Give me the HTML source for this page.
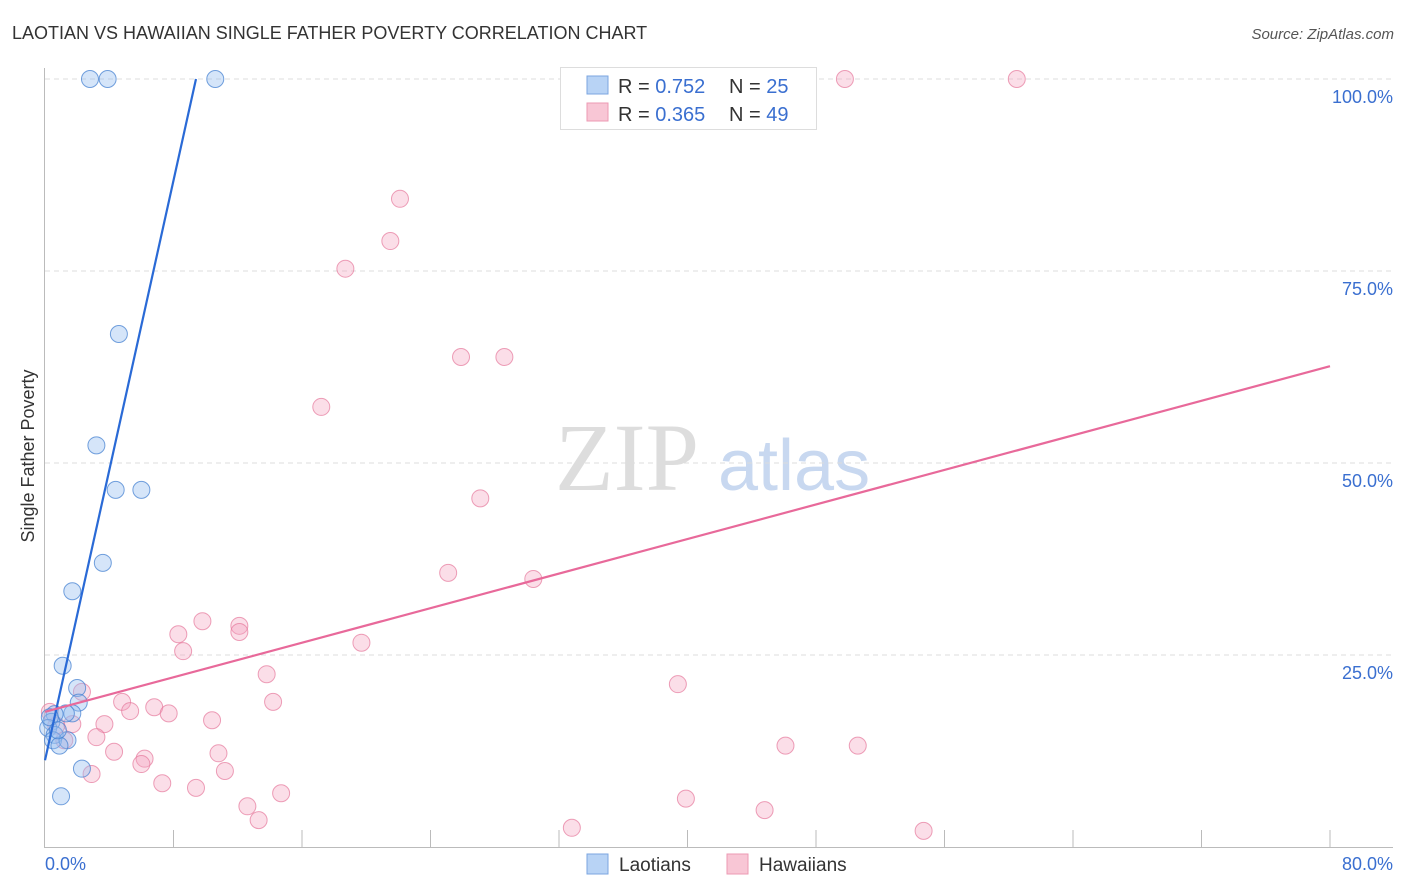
<!DOCTYPE html>
<html><head><meta charset="utf-8"><style>
body{margin:0;background:#fff;font-family:"Liberation Sans",sans-serif;}
svg{display:block}
</style></head><body>
<svg id="chart" width="1406" height="892">
<text x="12" y="39" font-size="18" fill="#333">LAOTIAN VS HAWAIIAN SINGLE FATHER POVERTY CORRELATION CHART</text>
<text x="1394" y="39" font-size="15" fill="#555" font-style="italic" text-anchor="end">Source: ZipAtlas.com</text>
<text x="34" y="456" font-size="18" fill="#333" text-anchor="middle" transform="rotate(-90 34 456)">Single Father Poverty</text>
<text x="555" y="490" font-size="96" fill="#ddd" font-family="Liberation Serif,serif">ZIP</text>
<text x="718" y="490" font-size="72" fill="#c8d8f0">atlas</text>
<g id="grid"></g><g id="axes"></g><g id="pts"></g><g id="lines"></g>
<g>
<rect x="560.5" y="67.5" width="256" height="62" fill="#fff" stroke="#ddd"/>
<rect x="587" y="76" width="21" height="18" fill="#b8d3f5" stroke="#7ba6e0"/>
<rect x="587" y="103" width="21" height="18" fill="#f8c6d5" stroke="#ec9ab3"/>
<text x="618" y="93" font-size="20" fill="#333">R = <tspan fill="#3a6fd0">0.752</tspan></text>
<text x="729" y="93" font-size="20" fill="#333">N = <tspan fill="#3a6fd0">25</tspan></text>
<text x="618" y="121" font-size="20" fill="#333">R = <tspan fill="#3a6fd0">0.365</tspan></text>
<text x="729" y="121" font-size="20" fill="#333">N = <tspan fill="#3a6fd0">49</tspan></text>
</g>
<g>
<rect x="587" y="854" width="21" height="20" fill="#b8d3f5" stroke="#7ba6e0"/>
<text x="619" y="871" font-size="19" fill="#333">Laotians</text>
<rect x="727" y="854" width="21" height="20" fill="#f8c6d5" stroke="#ec9ab3"/>
<text x="759" y="871" font-size="19" fill="#333">Hawaiians</text>
</g>
</svg>
<script>
const yTicks=[25,50,75,100];
const xTickLabels=["0.0%","80.0%"];
const blueX=[2.8,3.9,10.6,4.6,3.2,4.4,6.0,3.6,1.7,1.1,2.0,2.1,1.7,1.3,0.6,0.4,0.2,0.6,0.5,1.4,0.9,2.3,1.0,0.3,0.8];
const blueY=[100,100,100,66.8,52.3,46.5,46.5,37.0,33.3,23.6,20.7,18.8,17.4,17.4,17.3,16.3,15.5,14.6,13.9,13.9,13.2,10.2,6.6,16.9,15.2];
const pinkX=[49.8,60.5,22.1,21.5,18.7,25.9,28.6,17.2,27.1,25.1,30.4,9.8,12.1,12.1,8.3,19.7,8.6,39.4,13.8,2.3,14.2,4.8,5.3,6.8,7.7,3.7,10.4,3.2,10.8,4.3,6.2,6.0,11.2,2.9,7.3,9.4,12.6,14.7,13.3,39.9,44.8,46.1,50.6,32.8,54.7,1.7,1.2,0.7,0.3];
const pinkY=[100,100,84.4,78.9,75.3,63.8,63.8,57.3,45.4,35.7,34.9,29.4,28.8,28.0,27.7,26.6,25.5,21.2,22.5,20.2,18.9,18.9,17.7,18.2,17.4,16.0,16.5,14.3,12.2,12.4,11.5,10.8,9.9,9.5,8.3,7.7,5.3,7.0,3.5,6.3,4.8,13.2,13.2,2.5,2.1,16.0,13.9,15.8,17.6];
const blueTrend=[[0,11.3],[9.4,100]];
const pinkTrend=[[0,17.6],[80,62.6]];
const NS="http://www.w3.org/2000/svg";
const X=v=>45+v*(1285/80), Y=v=>847-v*7.68;
function mk(t,a,p){const e=document.createElementNS(NS,t);for(const k in a)e.setAttribute(k,a[k]);p.appendChild(e);return e;}
const grid=document.getElementById('grid'),axes=document.getElementById('axes'),pts=document.getElementById('pts'),lines=document.getElementById('lines');
yTicks.forEach(v=>{
 const l=mk('line',{x1:45,x2:1393,y1:Y(v),y2:Y(v),stroke:'#ddd','stroke-dasharray':'5,4'},grid);
 
 
 const t=mk('text',{x:1393,y:Y(v)+24,'font-size':18,fill:'#3a6fd0','text-anchor':'end'},axes);
 t.textContent=v.toFixed(1)+'%';
 
 
});
const ax=mk('line',{x1:44.5,x2:44.5,y1:68,y2:847,stroke:'#bbb'},axes);


const bx=mk('line',{x1:44,x2:1393,y1:847.5,y2:847.5,stroke:'#bbb'},axes);


for(let i=1;i<=10;i++){const tk=mk('line',{x1:X(i*8),x2:X(i*8),y1:830,y2:847,stroke:'#bbb'},axes);
 
 }
const t0=mk('text',{x:45,y:870,'font-size':18,fill:'#3a6fd0'},axes);t0.textContent=xTickLabels[0];


const t1=mk('text',{x:1393,y:870,'font-size':18,fill:'#3a6fd0','text-anchor':'end'},axes);t1.textContent=xTickLabels[1];


pinkX.forEach((x,i)=>{const c=mk('circle',{cx:X(x),cy:Y(pinkY[i]),r:8.5,fill:'rgba(244,160,188,0.35)',stroke:'rgba(230,120,155,0.7)','stroke-width':1},pts);
 
 });
blueX.forEach((x,i)=>{const c=mk('circle',{cx:X(x),cy:Y(blueY[i]),r:8.5,fill:'rgba(150,190,240,0.4)',stroke:'rgba(70,130,210,0.75)','stroke-width':1},pts);
 
 });
const bl=mk('line',{x1:X(blueTrend[0][0]),y1:Y(blueTrend[0][1]),x2:X(blueTrend[1][0]),y2:Y(blueTrend[1][1]),stroke:'#2a6ad6','stroke-width':2.2},lines);


const pl=mk('line',{x1:X(pinkTrend[0][0]),y1:Y(pinkTrend[0][1]),x2:X(pinkTrend[1][0]),y2:Y(pinkTrend[1][1]),stroke:'#e8699a','stroke-width':2.2},lines);


</script>
</body></html>
